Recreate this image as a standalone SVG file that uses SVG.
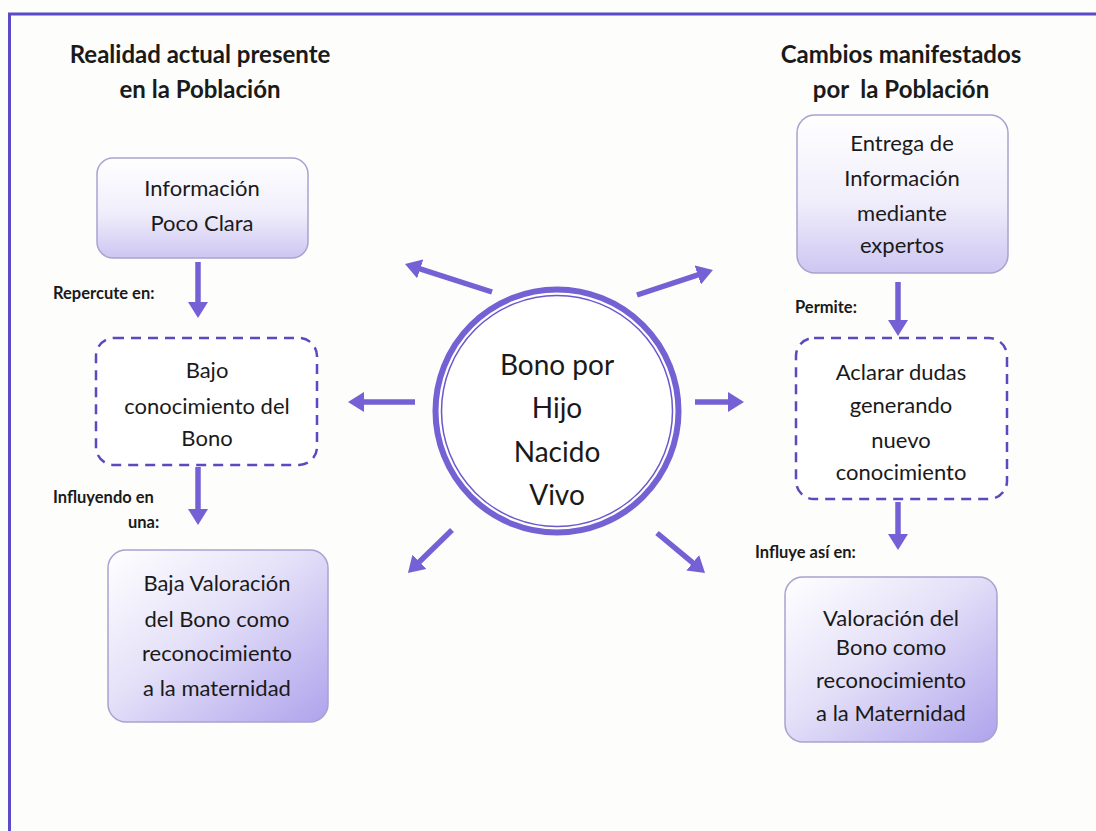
<svg xmlns="http://www.w3.org/2000/svg" width="1096" height="831" viewBox="0 0 1096 831">
<defs>
<style>
.t{font-family:Lato,"Open Sans","Liberation Sans",sans-serif;fill:#1a1a1a;text-anchor:middle}
.title{font-size:24px;font-weight:bold;white-space:pre}
.box{font-size:22px}
.lbl{font-family:Lato,"Open Sans","Liberation Sans",sans-serif;fill:#1a1a1a;font-size:16.5px;font-weight:bold}
.ctr{font-size:28px}
.dash{fill:#fff;stroke:#5a4ac0;stroke-width:2.5;stroke-dasharray:10 7}
.sol{stroke:#a9a2cf;stroke-width:1.5}
.arr{stroke:#7560d6;stroke-width:5.5;fill:none;marker-end:url(#ah)}
</style>
<linearGradient id="gV" x1="0" y1="0" x2="0" y2="1">
<stop offset="0" stop-color="#ffffff"/>
<stop offset="0.55" stop-color="#f0eefb"/>
<stop offset="1" stop-color="#cdc6f2"/>
</linearGradient>
<linearGradient id="gD" x1="0" y1="0" x2="1" y2="1">
<stop offset="0" stop-color="#ffffff"/>
<stop offset="0.45" stop-color="#e4e0f8"/>
<stop offset="1" stop-color="#aea3ec"/>
</linearGradient>
<marker id="ah" viewBox="0 -10 16 20" refX="1" refY="0" markerWidth="16" markerHeight="20" markerUnits="userSpaceOnUse" orient="auto">
<path d="M0,-10 L16,0 L0,10 z" fill="#7560d6"/>
</marker>
</defs>
<rect width="1096" height="831" fill="#fdfdfb"/>
<path d="M9.5,831 V14 H1096" fill="none" stroke="#5b4bc8" stroke-width="3"/>

<g id="title-left">
<text class="t title" x="200" y="63">Realidad actual presente</text>
<text class="t title" x="200" y="98">en la Población</text>
</g>
<g id="title-right">
<text class="t title" x="901" y="63">Cambios manifestados</text>
<text class="t title" x="901" y="98">por  la Población</text>
</g>

<g id="center">
<circle cx="557" cy="411" r="121.5" fill="#fff" stroke="#7461d4" stroke-width="6"/>
<circle cx="557" cy="411" r="115.5" fill="none" stroke="#6a58cc" stroke-width="1.5"/>
<text class="t ctr" x="557" y="375">Bono por</text>
<text class="t ctr" x="557" y="418">Hijo</text>
<text class="t ctr" x="557" y="462">Nacido</text>
<text class="t ctr" x="557" y="505">Vivo</text>
</g>

<g id="info-poco-clara">
<rect class="sol" x="97" y="158" width="211" height="100" rx="16" fill="url(#gV)"/>
<text class="t box" x="202" y="196">Información</text>
<text class="t box" x="202" y="231">Poco Clara</text>
</g>

<g id="bajo-conocimiento">
<rect class="dash" x="96" y="338" width="221" height="127" rx="18"/>
<text class="t box" x="207" y="378">Bajo</text>
<text class="t box" x="207" y="414">conocimiento del</text>
<text class="t box" x="207" y="446">Bono</text>
</g>

<g id="baja-valoracion">
<rect class="sol" x="108" y="550" width="220" height="172" rx="18" fill="url(#gD)"/>
<text class="t box" x="217" y="591">Baja Valoración</text>
<text class="t box" x="217" y="627">del Bono como</text>
<text class="t box" x="217" y="661">reconocimiento</text>
<text class="t box" x="217" y="696">a la maternidad</text>
</g>

<g id="entrega-info">
<rect class="sol" x="797" y="115" width="211" height="158" rx="18" fill="url(#gV)"/>
<text class="t box" x="902" y="151">Entrega de</text>
<text class="t box" x="902" y="186">Información</text>
<text class="t box" x="902" y="221">mediante</text>
<text class="t box" x="902" y="253">expertos</text>
</g>

<g id="aclarar-dudas">
<rect class="dash" x="796" y="338" width="211" height="161" rx="18"/>
<text class="t box" x="901" y="380">Aclarar dudas</text>
<text class="t box" x="901" y="413">generando</text>
<text class="t box" x="901" y="448">nuevo</text>
<text class="t box" x="901" y="480">conocimiento</text>
</g>

<g id="valoracion">
<rect class="sol" x="785" y="577" width="212" height="165" rx="18" fill="url(#gD)"/>
<text class="t box" x="891" y="626">Valoración del</text>
<text class="t box" x="891" y="655">Bono como</text>
<text class="t box" x="891" y="688">reconocimiento</text>
<text class="t box" x="891" y="721">a la Maternidad</text>
</g>

<g id="labels">
<text class="lbl" x="53" y="299">Repercute en:</text>
<text class="lbl" x="53" y="503">Influyendo en</text>
<text class="lbl" x="128" y="528">una:</text>
<text class="lbl" x="795" y="313">Permite:</text>
<text class="lbl" x="755" y="558">Influye así en:</text>
</g>

<g id="connectors">
<line class="arr" x1="198" y1="262" x2="198" y2="303"/>
<line class="arr" x1="198" y1="467" x2="198" y2="510"/>
<line class="arr" x1="898" y1="282" x2="898" y2="321"/>
<line class="arr" x1="898" y1="502" x2="898" y2="535"/>
<line class="arr" x1="415" y1="402" x2="363" y2="402"/>
<line class="arr" x1="695" y1="402" x2="729" y2="402"/>
<line class="arr" x1="492" y1="292" x2="419.3" y2="268.6"/>
<line class="arr" x1="637" y1="295" x2="698.7" y2="274.7"/>
<line class="arr" x1="452" y1="530" x2="418.7" y2="562.5"/>
<line class="arr" x1="657" y1="533" x2="693.5" y2="563.4"/>
</g>
</svg>
